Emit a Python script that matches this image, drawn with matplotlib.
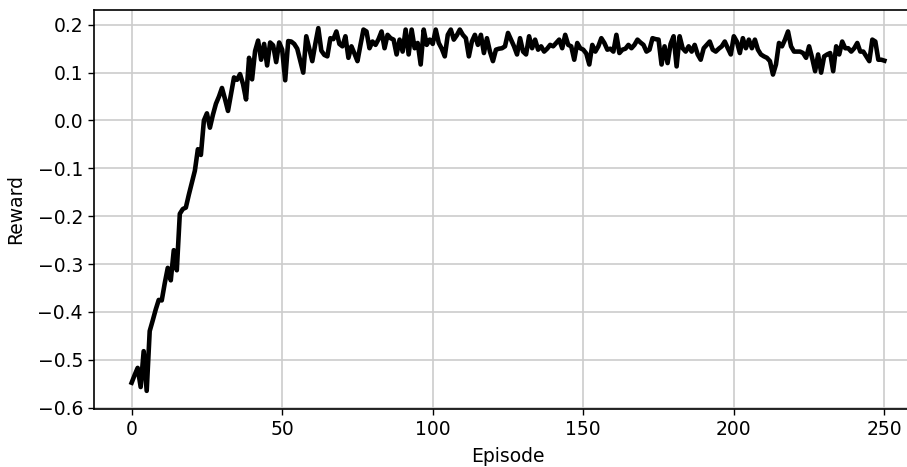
import numpy as np
import matplotlib
matplotlib.use('Agg')
import matplotlib.pyplot as plt

# reward per episode
reward = [
    -0.548, -0.532, -0.517, -0.557, -0.482, -0.565, -0.440, -0.418, -0.395, -0.375,
    -0.376, -0.340, -0.308, -0.334, -0.271, -0.313, -0.195, -0.185, -0.182, -0.155,
    -0.130, -0.105, -0.060, -0.072, 0.000, 0.015, -0.015, 0.012, 0.035, 0.050,
    0.068, 0.045, 0.020, 0.055, 0.090, 0.085, 0.097, 0.076, 0.044, 0.131,
    0.086, 0.145, 0.167, 0.127, 0.160, 0.115, 0.163, 0.157, 0.122, 0.163,
    0.148, 0.084, 0.166, 0.165, 0.160, 0.150, 0.125, 0.100, 0.176, 0.150,
    0.124, 0.160, 0.193, 0.146, 0.137, 0.134, 0.172, 0.170, 0.186, 0.160,
    0.155, 0.176, 0.131, 0.155, 0.140, 0.124, 0.158, 0.190, 0.186, 0.151,
    0.165, 0.158, 0.170, 0.186, 0.151, 0.179, 0.172, 0.169, 0.138, 0.169,
    0.144, 0.190, 0.138, 0.190, 0.151, 0.162, 0.117, 0.190, 0.158, 0.169,
    0.160, 0.190, 0.162, 0.150, 0.134, 0.179, 0.190, 0.169, 0.178, 0.190,
    0.179, 0.172, 0.134, 0.165, 0.179, 0.158, 0.179, 0.141, 0.172, 0.144,
    0.124, 0.148, 0.150, 0.151, 0.155, 0.183, 0.169, 0.155, 0.138, 0.172,
    0.144, 0.138, 0.176, 0.151, 0.169, 0.148, 0.155, 0.144, 0.150, 0.158,
    0.155, 0.162, 0.169, 0.151, 0.179, 0.158, 0.155, 0.127, 0.162, 0.151,
    0.148, 0.140, 0.117, 0.158, 0.144, 0.155, 0.172, 0.162, 0.148, 0.150,
    0.144, 0.179, 0.141, 0.148, 0.150, 0.158, 0.151, 0.158, 0.169, 0.163,
    0.158, 0.144, 0.148, 0.172, 0.170, 0.169, 0.117, 0.155, 0.120, 0.160,
    0.176, 0.113, 0.176, 0.151, 0.144, 0.155, 0.144, 0.158, 0.138, 0.127,
    0.151, 0.158, 0.165, 0.148, 0.144, 0.150, 0.155, 0.165, 0.151, 0.138,
    0.176, 0.165, 0.141, 0.172, 0.151, 0.169, 0.151, 0.169, 0.148, 0.138,
    0.134, 0.131, 0.124, 0.096, 0.117, 0.162, 0.155, 0.169, 0.186, 0.155,
    0.144, 0.144, 0.144, 0.141, 0.131, 0.155, 0.131, 0.103, 0.138, 0.100,
    0.134, 0.138, 0.141, 0.103, 0.155, 0.138, 0.165, 0.151, 0.151, 0.144,
    0.151, 0.162, 0.144, 0.144, 0.134, 0.124, 0.169, 0.165, 0.127, 0.127,
    0.125,
]
episodes = np.arange(len(reward))

fig = plt.figure(figsize=(9.07, 4.67), dpi=100)
# axes run past the right edge of the figure, like the cropped original
ax = fig.add_axes([94 / 907, 58 / 467, 828 / 907, 399 / 467])

ax.plot(episodes, reward, color='black', linewidth=3.3)
ax.set_xlabel('Episode', fontsize=13.5, labelpad=6)
ax.set_ylabel('Reward', fontsize=13.5, labelpad=9)
ax.tick_params(labelsize=13.5, length=4.5, width=1)
ax.grid(True, color='#cccccc', linewidth=1.2)
ax.set_axisbelow(True)
for s in ax.spines.values():
    s.set_linewidth(1.2)

fig.savefig('out.png', dpi=100)
